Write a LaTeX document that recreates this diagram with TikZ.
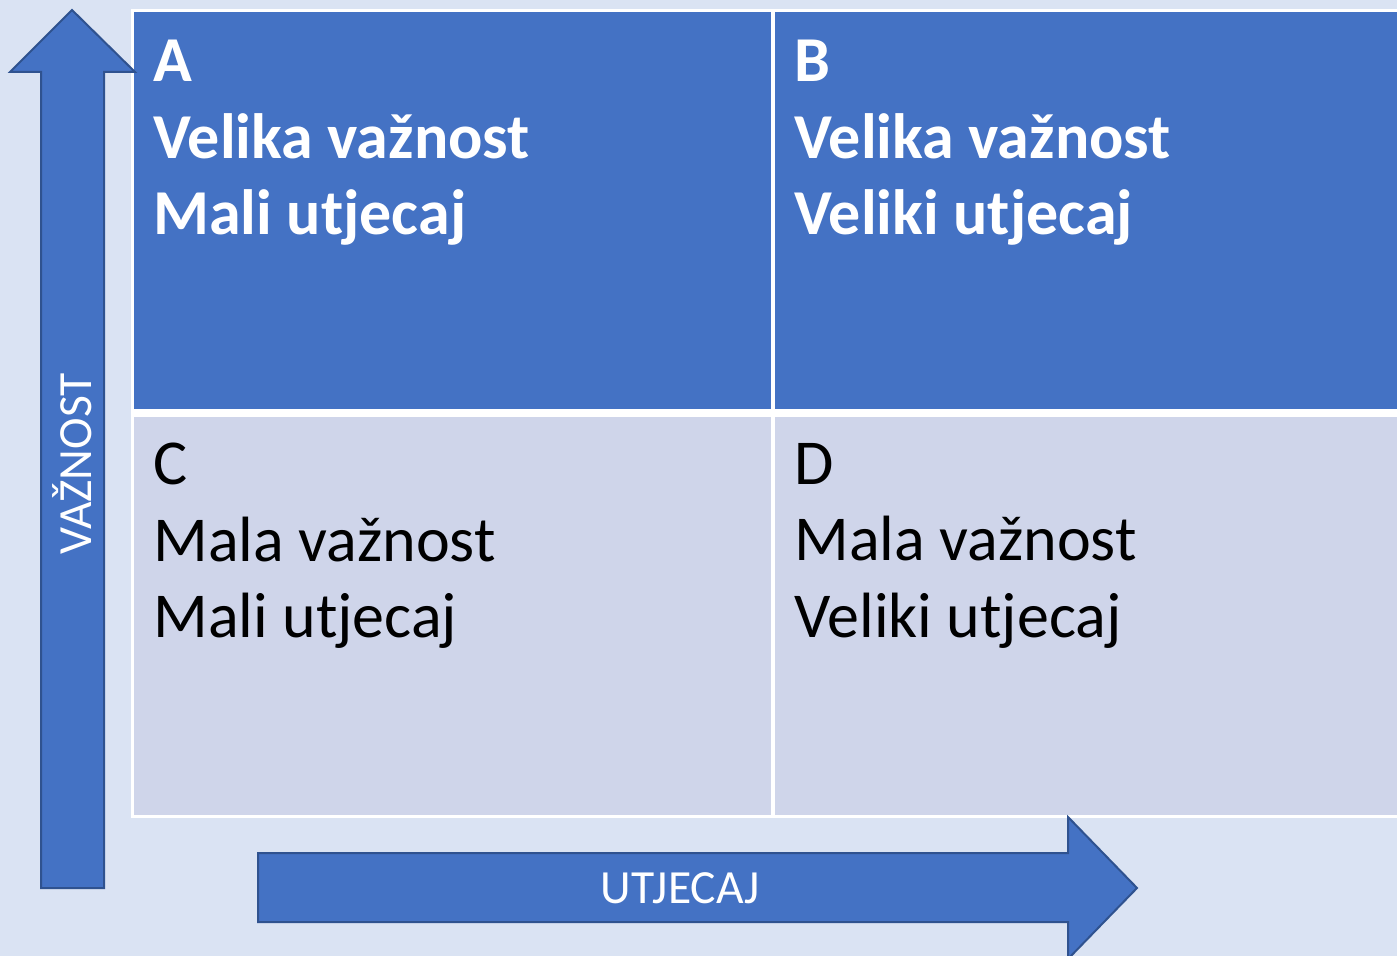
\documentclass[tikz,border=0pt]{standalone}
\usepackage{fontspec}
\setmainfont{Carlito}
\usepackage{tikz}
\definecolor{pozadina}{HTML}{DAE3F3}
\definecolor{plava}{HTML}{4472C4}
\definecolor{svijetla}{HTML}{CFD5EA}
\definecolor{rub}{HTML}{2F528F}

\begin{document}
\begin{tikzpicture}[x=0.5pt,y=-0.5pt]
                      \tikzstyle{strelica}=[fill=plava,draw=rub,line width=1pt,line join=miter]
                      \tikzstyle{donji}=[anchor=north west,inner sep=0pt,align=left,text=black,font=\fontsize{32}{38.2}\selectfont]
                      \tikzstyle{gornji}=[donji,text=white,font=\fontsize{32}{38.2}\selectfont\bfseries]
                      \tikzstyle{os}=[text=white,inner sep=0pt,font=\fontsize{23.8}{28}\selectfont]
                      \useasboundingbox (0,0) rectangle (1397,956);
                      \clip (0,0) rectangle (1397,956);
                      \fill[pozadina] (0,0) rectangle (1397,956);
                      \fill[white] (131,9) rectangle (1400,818);
                      \fill[plava] (134,12) rectangle (771,409);
                      \fill[plava] (775,12) rectangle (1400,409);
                      \fill[svijetla] (134,417) rectangle (771,815);
                      \fill[svijetla] (775,417) rectangle (1400,815);
                      \node[gornji] (a) at (153,40) {A\\Velika važnost\\Mali utjecaj};
                      \node[gornji] (b) at (794,40) {B\\Velika važnost\\Veliki utjecaj};
                      \node[donji] (c) at (153,443) {C\\Mala važnost\\Mali utjecaj};
                      \node[donji] (d) at (794,443) {D\\Mala važnost\\Veliki utjecaj};
                      \draw[strelica] (41,888) -- (41,72) -- (10,72) -- (72,10) -- (135,72) -- (104,72) -- (104,888) -- cycle;
                      \draw[strelica] (258,853) -- (1068,853) -- (1068,817) -- (1137,888) -- (1068,959) -- (1068,922) -- (258,922) -- cycle;
                      \node[os,rotate=90] (v) at (72,464) {VAŽNOST};
                      \node[os] (u) at (680,888) {UTJECAJ};
                  \end{tikzpicture}
\end{document}
